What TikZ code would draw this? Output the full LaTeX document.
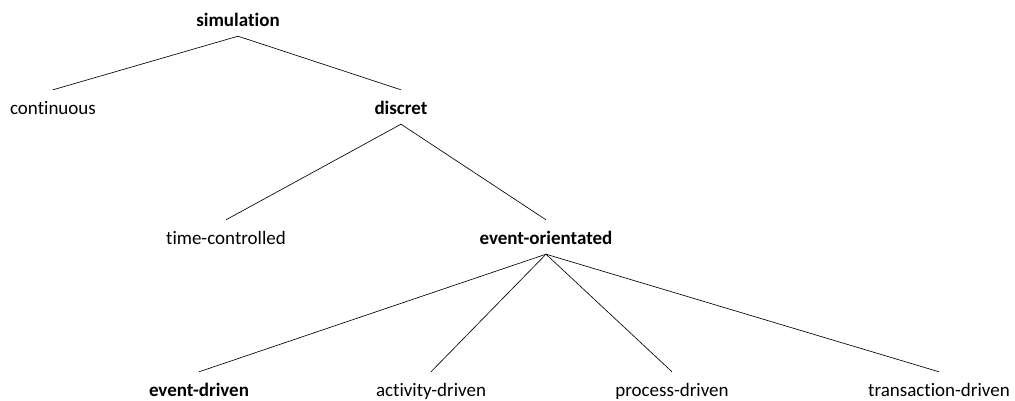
\documentclass[tikz,border=0pt]{standalone}
\usepackage{fontspec}
\setmainfont{Carlito}[Ligatures=NoCommon]
\begin{document}
\begin{tikzpicture}[x=1pt,y=-1pt,
  every node/.style={font=\fontsize{19}{23}\selectfont, text height=14pt,
    text depth=0pt, inner xsep=0pt, inner ysep=10pt, anchor=base},
  branch/.style={font=\fontsize{19}{23}\selectfont\bfseries},
  edge/.style={draw=black, line width=0.65pt}]
  \useasboundingbox (0,0) rectangle (1015,400);

  % level 0
  \node[branch] (sim) at (238,26) {simulation};
  % level 1
  \node (cont) at (53,114) {continuous};
  \node[branch] (disc) at (401,114) {discret};
  % level 2
  \node (time) at (226,244) {time-controlled};
  \node[branch] (evor) at (546,244) {event-orientated};
  % level 3
  \node[branch] (evdr) at (199,396) {event-driven};
  \node (actdr) at (431,396) {activity-driven};
  \node (procdr) at (672,396) {process-driven};
  \node (transdr) at (939,396) {transaction-driven};

  % tree edges
  \path[edge] (sim.south) -- (cont.north);
  \path[edge] (sim.south) -- (disc.north);
  \path[edge] (disc.south) -- (time.north);
  \path[edge] (disc.south) -- (evor.north);
  \path[edge] (evor.south) -- (evdr.north);
  \path[edge] (evor.south) -- (actdr.north);
  \path[edge] (evor.south) -- (procdr.north);
  \path[edge] (evor.south) -- (transdr.north);
\end{tikzpicture}
\end{document}
